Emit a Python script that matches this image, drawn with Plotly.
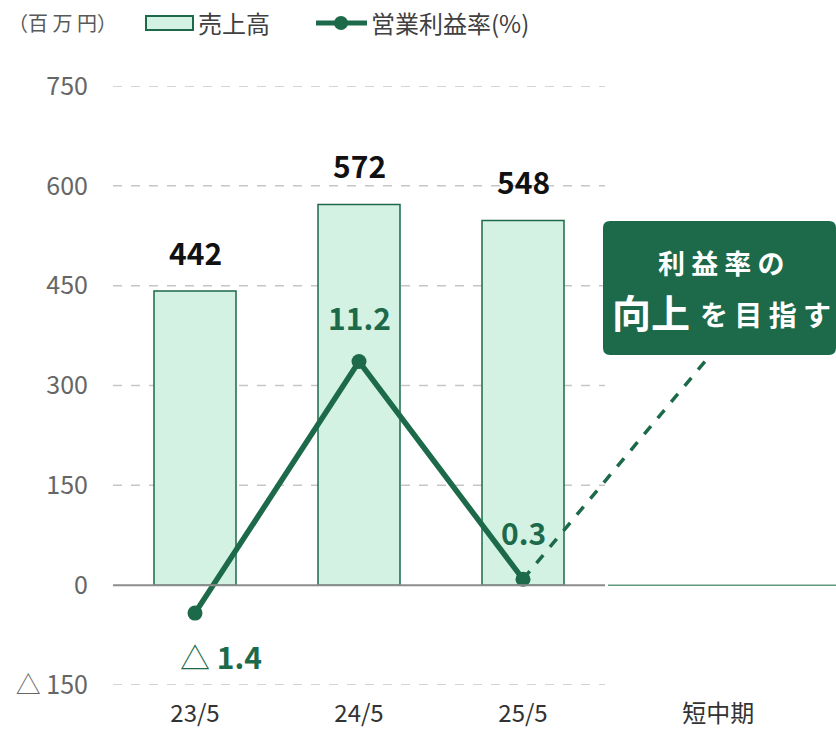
import plotly.graph_objects as go

# ---- data ----
categories = ["23/5", "24/5", "25/5"]
target_label = "短中期"
sales = [442, 572, 548]
margin_pct = [-1.4, 11.2, 0.3]
margin_text = ["<span style='font-weight:400'>△</span> <b>1.4</b>", "<b>11.2</b>", "<b>0.3</b>"]
y_ticks = [-150, 0, 150, 300, 450, 600, 750]
y_ticktext = ["△ 150", "0", "150", "300", "450", "600", "750"]
target_point = [3.14, 11.5]  # where the dashed arrow meets the callout (x, margin %)

# ---- styling ----
GREEN = "#1d6a4a"
MINT = "#d3f2e4"
FONT = "Noto Sans CJK JP"
W, H = 836, 731
L, R, T, B = 113, 0, 86, 46
PX_PER_X = 164.0
x_pos = list(range(len(categories)))
x_target = 3.19
x_min = -0.5
x_max = x_min + (W - L - R) / PX_PER_X
y_range = [-150, 750]
y2_range = [-5, 25]

def px_x(px):
    return x_min + (px - L) / PX_PER_X

def px_y(py):
    return y_range[1] - (py - T) * (y_range[1] - y_range[0]) / (H - T - B)

def paper_x(px):
    return (px - L) / (W - L - R)

def paper_y(py):
    return (H - B - py) / (H - T - B)

fig = go.Figure()

fig.add_trace(go.Bar(
    x=x_pos, y=sales, width=0.5,
    marker=dict(color=MINT, line=dict(color=GREEN, width=1.5)),
    showlegend=False, hoverinfo="skip",
))

# dashed projection line
fig.add_trace(go.Scatter(
    x=[x_pos[-1], target_point[0]], y=[margin_pct[-1], target_point[1]],
    yaxis="y2", mode="lines",
    line=dict(color=GREEN, width=3.5, dash="dash"),
    showlegend=False, hoverinfo="skip",
))

fig.add_trace(go.Scatter(
    x=x_pos, y=margin_pct, yaxis="y2", mode="lines+markers",
    line=dict(color=GREEN, width=5.5),
    marker=dict(color=GREEN, size=15),
    showlegend=False, hoverinfo="skip",
))

shapes = []
# gridlines
for v in y_ticks:
    if v == 0:
        continue
    shapes.append(dict(type="line", xref="x", yref="y", x0=x_min, x1=2.5, y0=v, y1=v,
                       line=dict(color="#c6c6c6", width=1.5, dash="dash"), layer="below"))
shapes.append(dict(type="line", xref="x", yref="y", x0=x_min, x1=2.5, y0=0, y1=0,
                   line=dict(color="#8c8c8c", width=2), layer="above"))
shapes.append(dict(type="line", xref="x", yref="y", x0=px_x(608), x1=x_max, y0=0, y1=0,
                   line=dict(color="#5e9a80", width=1.5), layer="above"))

# callout box with rounded corners
bx0, bx1, by0, by1 = 603, 836, 221, 355
r = 7
def P(px, py):
    return f"{px_x(px)},{px_y(py)}"
path = (f"M {P(bx0 + r, by0)} L {P(bx1 - r, by0)} Q {P(bx1, by0)} {P(bx1, by0 + r)} "
        f"L {P(bx1, by1 - r)} Q {P(bx1, by1)} {P(bx1 - r, by1)} "
        f"L {P(bx0 + r, by1)} Q {P(bx0, by1)} {P(bx0, by1 - r)} "
        f"L {P(bx0, by0 + r)} Q {P(bx0, by0)} {P(bx0 + r, by0)} Z")
shapes.append(dict(type="path", xref="x", yref="y", path=path,
                   fillcolor=GREEN, line=dict(width=0), layer="above"))

# legend (manual)
shapes.append(dict(type="rect", xref="paper", yref="paper",
                   x0=paper_x(146), x1=paper_x(193), y0=paper_y(30), y1=paper_y(16),
                   fillcolor=MINT, line=dict(color=GREEN, width=2)))
shapes.append(dict(type="line", xref="paper", yref="paper",
                   x0=paper_x(316), x1=paper_x(367), y0=paper_y(23), y1=paper_y(23),
                   line=dict(color=GREEN, width=5)))
shapes.append(dict(type="circle", xref="paper", yref="paper",
                   x0=paper_x(334), x1=paper_x(348), y0=paper_y(30), y1=paper_y(16),
                   fillcolor=GREEN, line=dict(width=0)))

annotations = []
for x, v in zip(x_pos, sales):
    annotations.append(dict(x=x, y=v, xref="x", yref="y", text=f"<b>{v}</b>",
                            showarrow=False, xanchor="center", yanchor="middle", yshift=39,
                            font=dict(family=FONT, size=30, color="#111111")))
for x, v, t in zip(x_pos, margin_pct, margin_text):
    shift = -43 if v < 0 else (45 if v > 5 else 47)
    xs = 26 if v < 0 else 0
    annotations.append(dict(x=x, y=v, xref="x", yref="y2", text=t,
                            showarrow=False, xanchor="center", yanchor="middle",
                            yshift=shift, xshift=xs,
                            font=dict(family=FONT, size=30, color=GREEN)))

def txt(px, py, text, size, color, xanchor="center"):
    annotations.append(dict(x=paper_x(px), y=paper_y(py), xref="paper", yref="paper",
                            text=text, showarrow=False, xanchor=xanchor, yanchor="middle",
                            font=dict(family=FONT, size=size, color=color)))

# callout text
txt(721, 262, "<b>利 益 率 の</b>", 27, "white")
txt(651, 311, "<b>向上</b>", 39, "white")
txt(765, 314, "<b>を 目 指 す</b>", 28, "white")

# legend text
txt(6, 23, "（百 万 円）", 20, "#595959", xanchor="left")
txt(196, 23, "売上高", 24, "#404040", xanchor="left")
txt(369, 23, "営業利益率(%)", 24, "#404040", xanchor="left")

fig.update_layout(
    width=W, height=H,
    margin=dict(l=L, r=R, t=T, b=B),
    plot_bgcolor="white", paper_bgcolor="white",
    font=dict(family=FONT),
    xaxis=dict(range=[x_min, x_max], tickvals=x_pos + [x_target],
               ticktext=categories + [target_label],
               showgrid=False, zeroline=False, showline=False, ticks="",
               tickfont=dict(family=FONT, size=24, color="#333333"),
               ticklabelstandoff=12),
    yaxis=dict(range=y_range, tickvals=y_ticks, ticktext=y_ticktext,
               showgrid=False, zeroline=False, showline=False, ticks="",
               tickfont=dict(family=FONT, size=25, color="#666666"),
               ticklabelstandoff=24),
    yaxis2=dict(range=y2_range, overlaying="y", side="right", visible=False),
    shapes=shapes, annotations=annotations,
    showlegend=False, bargap=0.5,
)

fig.write_html("out.html")
